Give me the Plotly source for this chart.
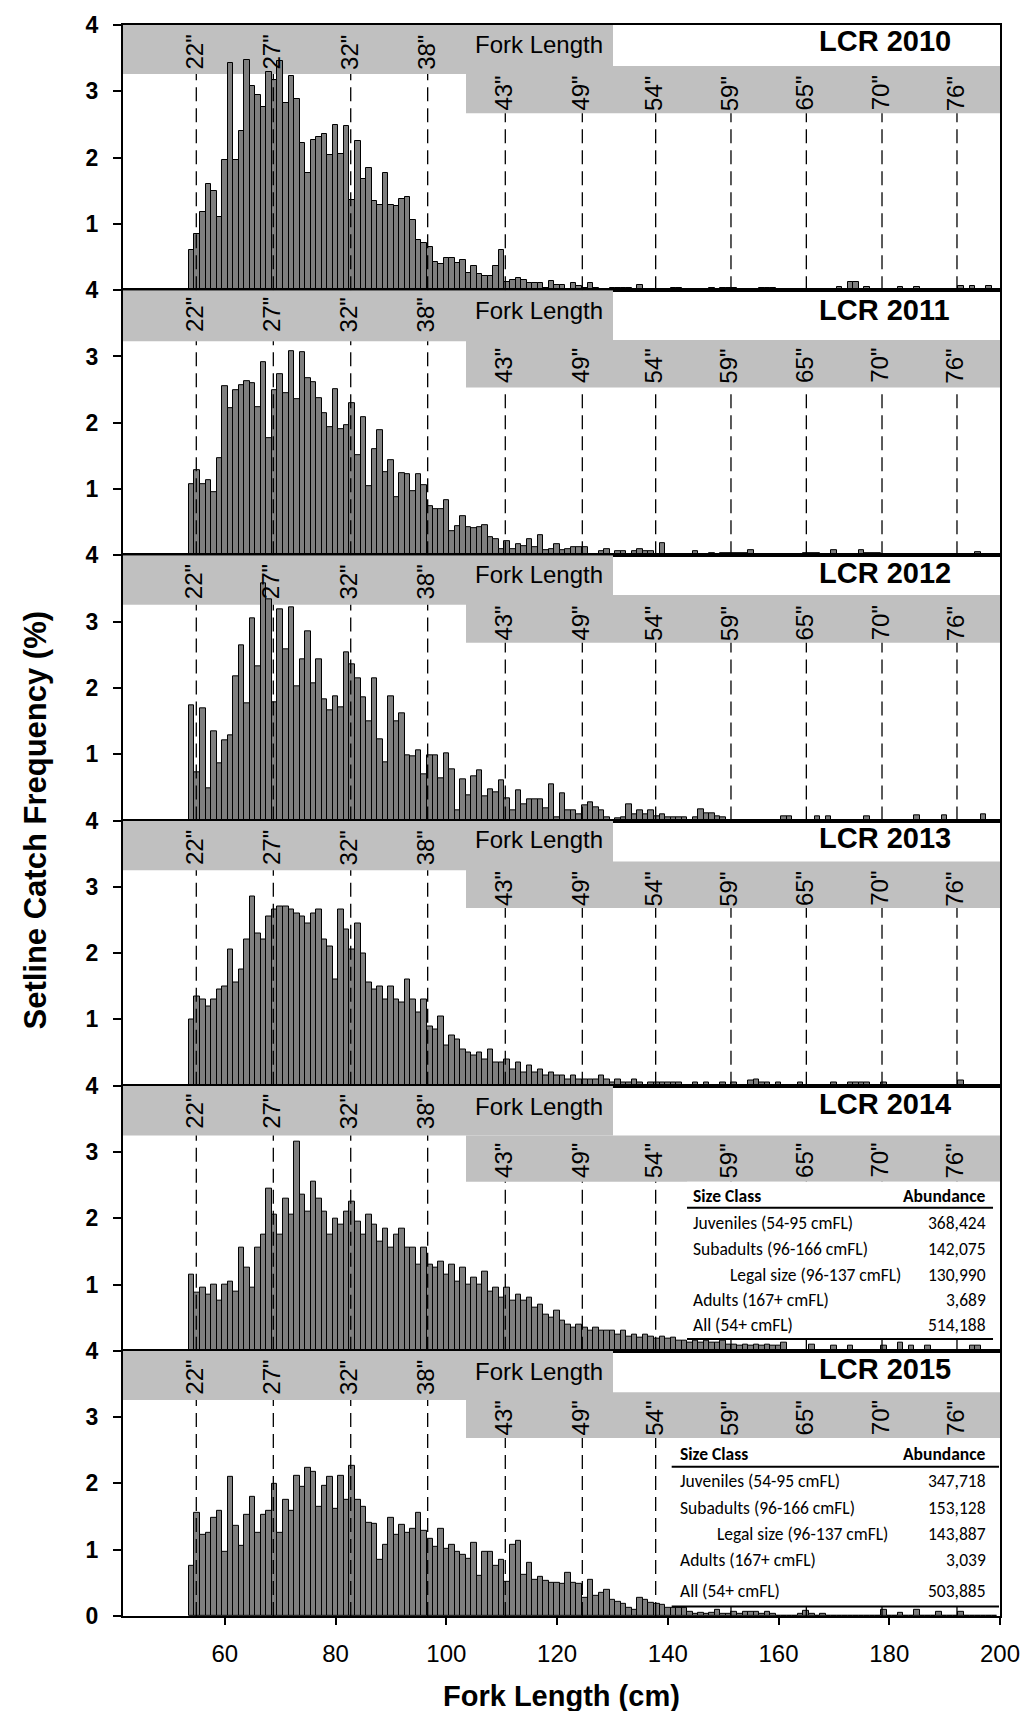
import plotly.graph_objects as go

# ---------------- data ----------------
years = ["2010", "2011", "2012", "2013", "2014", "2015"]
bins = list(range(54, 200))  # 1-cm fork-length bins (cm)

freq_2010 = [
    0.60, 0.84, 1.18, 1.60, 1.50, 1.10, 1.97, 3.43, 1.97, 2.40,
    3.47, 3.08, 2.95, 2.76, 3.29, 3.17, 3.45, 2.83, 3.23, 2.88,
    2.22, 1.76, 2.26, 2.31, 2.35, 2.04, 2.49, 2.05, 2.48, 1.36,
    2.25, 1.67, 1.85, 1.35, 1.29, 1.77, 1.29, 1.27, 1.38, 1.40,
    1.06, 0.75, 0.71, 0.65, 0.43, 0.39, 0.49, 0.48, 0.41, 0.45,
    0.26, 0.36, 0.25, 0.22, 0.22, 0.36, 0.60, 0.12, 0.15, 0.18,
    0.15, 0.11, 0.11, 0.11, 0.04, 0.14, 0.08, 0.08, 0.00, 0.11,
    0.06, 0.04, 0.11, 0.03, 0.00, 0.00, 0.04, 0.04, 0.04, 0.04,
    0.00, 0.08, 0.00, 0.00, 0.00, 0.00, 0.00, 0.04, 0.04, 0.00,
    0.00, 0.00, 0.00, 0.00, 0.04, 0.00, 0.04, 0.04, 0.04, 0.00,
    0.00, 0.00, 0.00, 0.04, 0.04, 0.04, 0.00, 0.00, 0.00, 0.00,
    0.00, 0.00, 0.00, 0.00, 0.00, 0.00, 0.00, 0.05, 0.00, 0.12,
    0.12, 0.00, 0.05, 0.00, 0.00, 0.00, 0.00, 0.00, 0.05, 0.00,
    0.00, 0.05, 0.00, 0.00, 0.00, 0.00, 0.00, 0.00, 0.00, 0.06,
    0.00, 0.06, 0.00, 0.00, 0.06, 0.00,
]
freq_2011 = [
    1.07, 1.28, 1.07, 1.13, 0.95, 1.46, 2.55, 2.22, 2.49, 2.56,
    2.62, 2.59, 2.24, 2.92, 1.77, 2.49, 2.74, 2.45, 3.08, 2.35,
    3.06, 2.68, 2.61, 2.37, 2.15, 1.94, 2.51, 1.90, 1.96, 2.30,
    1.51, 2.08, 1.04, 1.60, 1.89, 1.25, 1.44, 0.88, 1.24, 1.23,
    0.97, 1.23, 1.06, 0.74, 0.69, 0.69, 0.83, 0.37, 0.44, 0.59,
    0.42, 0.41, 0.43, 0.46, 0.28, 0.25, 0.10, 0.21, 0.09, 0.17,
    0.14, 0.25, 0.13, 0.30, 0.08, 0.10, 0.17, 0.08, 0.10, 0.13,
    0.13, 0.13, 0.00, 0.00, 0.06, 0.10, 0.00, 0.06, 0.06, 0.00,
    0.06, 0.10, 0.06, 0.06, 0.00, 0.18, 0.00, 0.00, 0.00, 0.00,
    0.00, 0.06, 0.00, 0.00, 0.03, 0.00, 0.03, 0.03, 0.03, 0.03,
    0.03, 0.08, 0.00, 0.00, 0.00, 0.00, 0.00, 0.00, 0.00, 0.00,
    0.00, 0.03, 0.03, 0.03, 0.00, 0.00, 0.08, 0.00, 0.00, 0.00,
    0.00, 0.08, 0.04, 0.04, 0.04, 0.00, 0.00, 0.00, 0.00, 0.00,
    0.00, 0.00, 0.00, 0.00, 0.00, 0.00, 0.00, 0.00, 0.00, 0.00,
    0.00, 0.00, 0.05, 0.00, 0.00, 0.00,
]
freq_2012 = [
    1.74, 0.73, 1.69, 0.48, 1.35, 0.86, 1.21, 1.28, 2.18, 2.64,
    1.76, 3.05, 2.32, 3.58, 3.34, 1.79, 3.19, 2.58, 3.22, 2.03,
    2.43, 2.86, 2.07, 2.43, 1.83, 1.66, 1.87, 1.71, 2.53, 2.35,
    2.14, 1.86, 1.49, 2.14, 1.22, 0.88, 1.88, 1.49, 1.62, 0.98,
    0.97, 1.06, 0.70, 0.99, 0.99, 0.63, 1.02, 0.77, 0.15, 0.62,
    0.38, 0.66, 0.75, 0.36, 0.47, 0.43, 0.60, 0.33, 0.15, 0.46,
    0.24, 0.32, 0.32, 0.32, 0.19, 0.54, 0.05, 0.41, 0.15, 0.15,
    0.10, 0.23, 0.28, 0.20, 0.15, 0.05, 0.00, 0.04, 0.05, 0.24,
    0.10, 0.15, 0.09, 0.16, 0.06, 0.10, 0.05, 0.05, 0.05, 0.05,
    0.00, 0.05, 0.17, 0.11, 0.11, 0.06, 0.05, 0.00, 0.00, 0.00,
    0.00, 0.00, 0.00, 0.00, 0.00, 0.00, 0.00, 0.06, 0.06, 0.00,
    0.00, 0.00, 0.00, 0.06, 0.00, 0.06, 0.00, 0.00, 0.00, 0.00,
    0.00, 0.00, 0.06, 0.00, 0.00, 0.00, 0.00, 0.00, 0.00, 0.00,
    0.00, 0.08, 0.00, 0.00, 0.00, 0.00, 0.08, 0.00, 0.00, 0.00,
    0.00, 0.00, 0.00, 0.09, 0.00, 0.00,
]
freq_2013 = [
    1.00, 1.35, 1.30, 1.20, 1.30, 1.45, 1.50, 2.05, 1.55, 1.75,
    2.20, 2.85, 2.30, 2.20, 2.55, 2.65, 2.70, 2.70, 2.65, 2.60,
    2.55, 2.45, 2.60, 2.65, 2.20, 2.10, 1.60, 2.65, 2.35, 2.05,
    2.45, 2.00, 1.55, 1.45, 1.50, 1.30, 1.50, 1.30, 1.25, 1.60,
    1.30, 1.10, 1.30, 0.90, 0.85, 1.05, 0.60, 0.75, 0.70, 0.55,
    0.50, 0.45, 0.50, 0.40, 0.55, 0.35, 0.35, 0.40, 0.25, 0.35,
    0.20, 0.30, 0.20, 0.25, 0.15, 0.20, 0.15, 0.15, 0.10, 0.15,
    0.10, 0.10, 0.10, 0.10, 0.15, 0.10, 0.05, 0.10, 0.05, 0.05,
    0.10, 0.05, 0.00, 0.05, 0.05, 0.05, 0.05, 0.05, 0.05, 0.00,
    0.00, 0.05, 0.00, 0.05, 0.00, 0.00, 0.05, 0.00, 0.05, 0.00,
    0.00, 0.08, 0.10, 0.05, 0.05, 0.00, 0.05, 0.00, 0.00, 0.00,
    0.05, 0.00, 0.00, 0.00, 0.00, 0.00, 0.05, 0.00, 0.00, 0.05,
    0.05, 0.05, 0.05, 0.00, 0.00, 0.05, 0.00, 0.00, 0.00, 0.00,
    0.00, 0.00, 0.00, 0.00, 0.00, 0.00, 0.00, 0.00, 0.00, 0.08,
    0.00, 0.00, 0.00, 0.00, 0.00, 0.00,
]
freq_2014 = [
    1.15, 0.88, 0.95, 0.85, 1.00, 0.75, 1.00, 1.05, 0.90, 1.55,
    1.25, 0.95, 1.55, 1.75, 2.45, 2.05, 1.75, 2.30, 2.05, 3.15,
    2.35, 2.10, 2.55, 2.30, 2.10, 1.75, 2.00, 1.90, 2.10, 2.25,
    1.95, 1.75, 2.05, 1.90, 1.65, 1.85, 1.55, 1.75, 1.85, 1.55,
    1.55, 1.30, 1.55, 1.30, 1.25, 1.35, 1.15, 1.30, 1.05, 1.25,
    1.00, 1.10, 1.00, 1.20, 0.90, 0.95, 0.80, 0.95, 0.75, 0.85,
    0.75, 0.80, 0.65, 0.70, 0.55, 0.50, 0.60, 0.45, 0.40, 0.35,
    0.40, 0.35, 0.30, 0.35, 0.30, 0.30, 0.30, 0.25, 0.30, 0.22,
    0.25, 0.20, 0.25, 0.22, 0.18, 0.22, 0.18, 0.20, 0.15, 0.15,
    0.12, 0.15, 0.12, 0.15, 0.12, 0.12, 0.15, 0.10, 0.10, 0.08,
    0.10, 0.08, 0.10, 0.08, 0.10, 0.08, 0.08, 0.13, 0.00, 0.00,
    0.00, 0.00, 0.10, 0.00, 0.00, 0.00, 0.08, 0.00, 0.00, 0.08,
    0.00, 0.00, 0.00, 0.00, 0.00, 0.08, 0.00, 0.00, 0.12, 0.00,
    0.08, 0.00, 0.00, 0.08, 0.00, 0.00, 0.00, 0.00, 0.00, 0.00,
    0.00, 0.08, 0.08, 0.00, 0.00, 0.00,
]
freq_2015 = [
    0.76, 1.55, 1.23, 1.26, 1.48, 1.59, 0.97, 2.10, 1.36, 1.06,
    1.52, 1.80, 1.26, 1.53, 1.59, 2.00, 1.26, 1.75, 1.59, 2.11,
    1.95, 2.23, 2.17, 1.65, 1.96, 2.10, 1.61, 2.12, 1.75, 2.27,
    1.75, 1.65, 1.40, 1.39, 0.85, 1.08, 1.48, 1.22, 1.38, 1.26,
    1.31, 1.56, 1.28, 1.17, 1.04, 1.31, 1.02, 1.07, 0.97, 0.93,
    0.86, 1.11, 0.61, 0.97, 0.97, 0.75, 0.84, 0.51, 1.08, 1.14,
    0.62, 0.80, 0.54, 0.59, 0.53, 0.50, 0.50, 0.48, 0.65, 0.50,
    0.48, 0.28, 0.54, 0.30, 0.35, 0.39, 0.24, 0.21, 0.18, 0.12,
    0.10, 0.28, 0.24, 0.20, 0.18, 0.17, 0.13, 0.12, 0.12, 0.12,
    0.07, 0.04, 0.05, 0.04, 0.05, 0.10, 0.04, 0.04, 0.07, 0.04,
    0.07, 0.07, 0.07, 0.04, 0.07, 0.04, 0.00, 0.00, 0.00, 0.00,
    0.04, 0.08, 0.04, 0.00, 0.04, 0.00, 0.00, 0.00, 0.00, 0.00,
    0.00, 0.00, 0.00, 0.00, 0.00, 0.09, 0.00, 0.00, 0.05, 0.00,
    0.00, 0.09, 0.00, 0.00, 0.00, 0.06, 0.00, 0.00, 0.00, 0.06,
    0.00, 0.00, 0.00, 0.00, 0.00, 0.00,
]
all_freqs = [freq_2010, freq_2011, freq_2012, freq_2013, freq_2014, freq_2015]

inch_labels = ['22"', '27"', '32"', '38"', '43"', '49"', '54"', '59"', '65"', '70"', '76"']
inch_pos_cm = [54.84, 68.75, 82.73, 96.63, 110.65, 124.56, 137.81, 151.41, 165.02, 178.69, 192.23]

x_ticks = [60, 80, 100, 120, 140, 160, 180, 200]
y_ticks = [1, 2, 3, 4]

table_rows = ["Juveniles (54-95 cmFL)", "Subadults (96-166 cmFL)",
              "Legal size (96-137 cmFL)", "Adults (167+ cmFL)", "All (54+ cmFL)"]
abund_2014 = ["368,424", "142,075", "130,990", "3,689", "514,188"]
abund_2015 = ["347,718", "153,128", "143,887", "3,039", "503,885"]

# ---------------- styling / layout helpers ----------------
XR = [41.6, 200]
FONT = "Liberation Sans, Arial, sans-serif"
TFONT = "Carlito, Calibri, Lato, sans-serif"
TSIZE = 17.5
BAND = "#C0C0C0"

# per-panel header geometry (y in data units)
top_band_lo = [3.26, 3.23, 3.255, 3.25, 3.25, 3.26]
sec_band = [(2.67, 3.38), (2.53, 3.25), (2.68, 3.40), (2.68, 3.38), (2.55, 3.25), (2.685, 3.375)]
lab1_y = [3.59, 3.63, 3.60, 3.59, 3.61, 3.60]
lab2_y = [2.97, 2.86, 2.975, 2.97, 2.87, 2.985]
title_y = [3.76, 3.70, 3.735, 3.73, 3.73, 3.73]
fl_y = [3.71, 3.69, 3.71, 3.71, 3.69, 3.695]

fig = go.Figure()
layout = dict(
    width=1036, height=1711,
    margin=dict(l=123, r=36, t=20, b=95),
    paper_bgcolor="white", plot_bgcolor="white",
    showlegend=False, bargap=0,
)
shapes = []
annotations = []

n = len(years)
for i in range(n):
    k = i + 1
    sfx = "" if k == 1 else str(k)
    xr, yr = "x" + sfx, "y" + sfx
    fig.add_trace(go.Bar(
        x=bins, y=all_freqs[i], width=1.0, xaxis=xr, yaxis=yr,
        marker=dict(color="#7F7F7F", line=dict(color="black", width=1)),
        hoverinfo="x+y", showlegend=False,
    ))
    lo, hi = (n - k) / n, (n - k + 1) / n
    tv = ([0] if k == n else []) + y_ticks
    layout["yaxis" + sfx] = dict(
        domain=[lo, hi], range=[0, 4], anchor=xr,
        tickvals=tv, ticktext=[str(v) for v in tv],
        ticks="outside", ticklen=8, tickwidth=1.5, tickcolor="black",
        ticklabelstandoff=10,
        showline=True, linewidth=2, linecolor="black", mirror=True,
        showgrid=False, zeroline=False,
        tickfont=dict(family=FONT, size=23, color="black", weight="bold"),
    )
    xa = dict(
        domain=[0, 1], range=XR, anchor=yr,
        showline=True, linewidth=2, linecolor="black", mirror=True,
        showgrid=False, zeroline=False,
        tickvals=x_ticks, showticklabels=(k == n),
        ticks="outside" if k == n else "", ticklen=7, tickwidth=1.5, tickcolor="black",
        ticklabelstandoff=8,
        tickfont=dict(family=FONT, size=24, color="black"),
    )
    if k > 1:
        xa["matches"] = "x"
    layout["xaxis" + sfx] = xa

    # header bands
    shapes.append(dict(type="rect", xref=xr, yref=yr, x0=XR[0], x1=130.1,
                       y0=top_band_lo[i], y1=4, fillcolor=BAND, line=dict(width=0), layer="below"))
    shapes.append(dict(type="rect", xref=xr, yref=yr, x0=103.55, x1=XR[1],
                       y0=sec_band[i][0], y1=sec_band[i][1], fillcolor=BAND,
                       line=dict(width=0), layer="below"))
    # dashed inch lines
    for j, (lab, pos) in enumerate(zip(inch_labels, inch_pos_cm)):
        first_row = j < 4
        ytop = top_band_lo[i] if first_row else sec_band[i][0]
        shapes.append(dict(type="line", xref=xr, yref=yr, x0=pos, x1=pos, y0=0, y1=ytop,
                           line=dict(color="black", width=1.3, dash="14px,7px"), layer="above"))
        annotations.append(dict(text=lab, xref=xr, yref=yr, x=pos, xshift=-2,
                                y=lab1_y[i] if first_row else lab2_y[i],
                                textangle=-90, showarrow=False,
                                font=dict(family=FONT, size=24, color="black")))
    annotations.append(dict(text="Fork Length", xref=xr, yref=yr, x=104.87, y=fl_y[i],
                            xanchor="left", yanchor="middle", showarrow=False,
                            font=dict(family=FONT, size=24, color="black")))
    annotations.append(dict(text="<b>LCR " + years[i] + "</b>", xref=xr, yref=yr, x=179.17,
                            y=title_y[i], xanchor="center", yanchor="middle", showarrow=False,
                            font=dict(family=FONT, size=29, color="black")))


# ---------------- abundance tables (panels 2014, 2015) ----------------
def add_table(k, abund, box, x_left, x_indent, x_right, line_x, y_head, y_hline, y_rows, y_bline):
    sfx = "" if k == 1 else str(k)
    xr, yr = "x" + sfx, "y" + sfx
    shapes.append(dict(type="rect", xref=xr, yref=yr, x0=box[0], x1=box[1], y0=box[2], y1=box[3],
                       fillcolor="white", line=dict(width=0), layer="above"))
    for yy in (y_hline, y_bline):
        shapes.append(dict(type="line", xref=xr, yref=yr, x0=line_x[0], x1=line_x[1], y0=yy, y1=yy,
                           line=dict(color="black", width=2), layer="above"))
    annotations.append(dict(text="<b>Size Class</b>", xref=xr, yref=yr, x=x_left, y=y_head,
                            xanchor="left", yanchor="middle", showarrow=False,
                            font=dict(family=TFONT, size=TSIZE, color="black")))
    annotations.append(dict(text="<b>Abundance</b>", xref=xr, yref=yr, x=x_right, y=y_head,
                            xanchor="right", yanchor="middle", showarrow=False,
                            font=dict(family=TFONT, size=TSIZE, color="black")))
    for r, (name, val) in enumerate(zip(table_rows, abund)):
        annotations.append(dict(text=name, xref=xr, yref=yr, x=x_indent if r == 2 else x_left,
                                y=y_rows[r], xanchor="left", yanchor="middle", showarrow=False,
                                font=dict(family=TFONT, size=TSIZE, color="black")))
        annotations.append(dict(text=val, xref=xr, yref=yr, x=x_right, y=y_rows[r],
                                xanchor="right", yanchor="middle", showarrow=False,
                                font=dict(family=TFONT, size=TSIZE, color="black")))


add_table(5, abund_2014, box=(143.47, 200, 0.18, 2.55), x_left=144.13, x_indent=150.93,
          x_right=197.89, line_x=(143.47, 198.74), y_head=2.335, y_hline=2.159,
          y_rows=[1.933, 1.542, 1.147, 0.766, 0.39], y_bline=0.18)
add_table(6, abund_2015, box=(140.7, 200, 0.144, 2.685), x_left=141.79, x_indent=148.52,
          x_right=197.89, line_x=(140.7, 199.82), y_head=2.44, y_hline=2.25,
          y_rows=[2.03, 1.636, 1.238, 0.847, 0.38], y_bline=0.144)

# ---------------- axis titles ----------------
annotations.append(dict(text="<b>Setline Catch Frequency (%)</b>", xref="paper", yref="paper",
                        x=-0.1003, y=0.5, textangle=-90, showarrow=False,
                        xanchor="center", yanchor="middle",
                        font=dict(family=FONT, size=31, color="black")))
annotations.append(dict(text="<b>Fork Length (cm)</b>", xref="paper", yref="paper",
                        x=0.5, y=-0.0501, showarrow=False, xanchor="center", yanchor="middle",
                        font=dict(family=FONT, size=29, color="black")))

layout["shapes"] = shapes
layout["annotations"] = annotations
fig.update_layout(**layout)
fig.write_html("out.html")
